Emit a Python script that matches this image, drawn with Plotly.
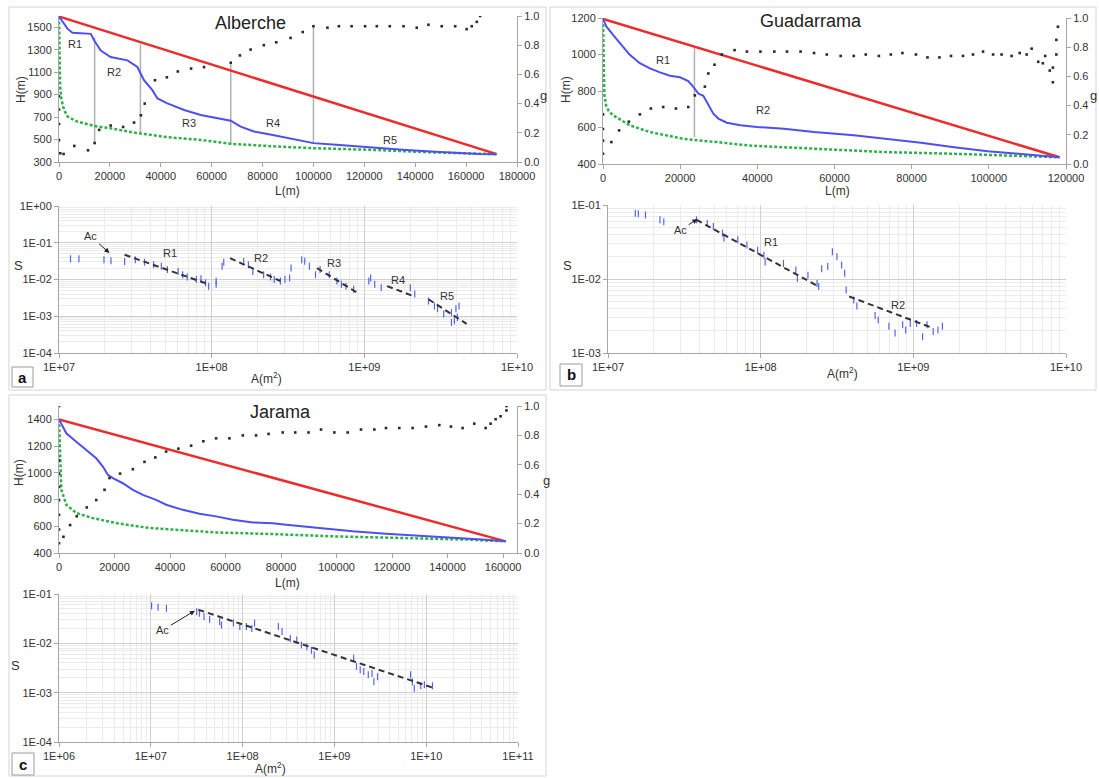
import math
import plotly.graph_objects as go

# ---------------- Alberche (a) ----------------
a_blue_L = [0, 3400, 5300, 12500, 13850, 16400, 20300, 26900, 30800, 33400, 36700, 38700, 42600,
            49200, 55700, 67500, 71400, 76600, 84000, 95000, 100000, 109000, 122000, 135000, 148000,
            158000, 165000, 172000]
a_blue_H = [1595, 1485, 1450, 1441, 1382, 1293, 1235, 1205, 1146, 1028, 940, 866, 822,
            763, 718, 668, 615, 571, 540, 495, 468, 453, 430, 409, 392,
            379, 372, 370]
a_red_L = [0, 172000]
a_red_H = [1595, 370]
a_green_L = [0, 150, 300, 450, 1000, 2000, 3400, 7300, 13800, 20300, 29500, 42600, 55700, 67500,
             85800, 100000, 122000, 148000, 172000]
a_green_H = [1595, 1440, 1150, 970, 850, 763, 704, 659, 621, 600, 562, 521, 497, 462,
             438, 423, 409, 385, 370]
a_g_L = [0, 0, 0, 0, 500, 1800, 6000, 11400, 14000, 15800, 20300, 25200, 29500, 32200,
         33700, 37700, 42400, 46700, 51900, 57000, 67500, 71100, 75300, 80500,
         85400, 91000, 95800, 100000, 105500, 110000, 115000, 120300, 124900, 130000,
         135400, 140600, 145200, 150400, 155700, 160200, 162200, 164200, 165500]
a_g = [0.45, 0.36, 0.26, 0.15, 0.06, 0.055, 0.11, 0.08, 0.13, 0.22, 0.25, 0.24, 0.27, 0.32,
       0.40, 0.56, 0.58, 0.62, 0.64, 0.65, 0.68, 0.73, 0.77, 0.80,
       0.82, 0.85, 0.89, 0.93, 0.92, 0.93, 0.93, 0.93, 0.93, 0.93,
       0.93, 0.92, 0.94, 0.93, 0.93, 0.91, 0.93, 0.96, 1.0]
a_reach_L = [14000, 32000, 67500, 100000]
a_reach_top = [1410, 1350, 1190, 1500]
a_reach_bot = [470, 555, 455, 470]
a_reach_names = ["R1", "R2", "R3", "R4", "R5"]
a_reach_lab_L = [6300, 21600, 51000, 84000, 130000]
a_reach_lab_H = [1352, 1100, 645, 650, 497]

a_A = [1.19e7, 1.35e7, 1.97e7, 2.19e7, 2.69e7, 3.16e7, 3.63e7, 4.17e7, 4.68e7, 5.13e7, 6.03e7,
       6.46e7, 6.92e7, 7.94e7, 8.51e7, 9.12e7, 9.55e7, 1.07e8, 1.07e8, 1.17e8, 1.20e8, 1.62e8,
       1.74e8, 1.86e8, 2.19e8, 2.43e8, 2.57e8, 2.82e8, 3.02e8, 3.24e8, 3.31e8, 3.89e8, 4.07e8,
       4.37e8, 4.79e8, 5.13e8, 5.89e8, 6.61e8, 7.08e8, 7.59e8, 8.51e8, 1.07e9, 1.10e9, 1.17e9,
       1.29e9, 2.00e9, 2.14e9, 2.63e9, 2.88e9, 3.02e9, 3.31e9, 3.72e9, 3.98e9, 4.07e9, 4.17e9,
       3.72e9, 3.89e9]
a_S = [0.0367, 0.0367, 0.0347, 0.0324, 0.0309, 0.0347, 0.0295, 0.0251, 0.0229, 0.0186, 0.0166,
       0.0135, 0.0117, 0.0100, 0.0105, 0.0081, 0.0066, 0.0089, 0.0074, 0.0229, 0.0295, 0.0309,
       0.0251, 0.0166, 0.0135, 0.0117, 0.0100, 0.0091, 0.0100, 0.0110, 0.0204, 0.0347, 0.0316,
       0.0229, 0.0135, 0.0186, 0.0135, 0.0091, 0.0074, 0.0066, 0.0054, 0.0091, 0.0110, 0.0074,
       0.0060, 0.0060, 0.0040, 0.0026, 0.0019, 0.0016, 0.00115, 0.00126, 0.0016, 0.00093, 0.0019,
       0.00068, 0.00076]
a_fit_A = [[2.69e7, 9.55e7], [1.32e8, 2.82e8], [4.9e8, 9.12e8], [1.41e9, 2.09e9], [2.63e9, 4.68e9]]
a_fit_S = [[0.047, 0.0074], [0.038, 0.0091], [0.0204, 0.0042], [0.0066, 0.00355], [0.0029, 0.00062]]
a_fit_lab_A = [5.37e7, 2.09e8, 6.3e8, 1.66e9, 3.47e9]
a_fit_lab_S = [0.0525, 0.038, 0.028, 0.0095, 0.00355]
a_ac_text = (1.62e7, 0.148)
a_ac_head = (2.14e7, 0.0525)

# ---------------- Guadarrama (b) ----------------
b_blue_L = [0, 870, 2600, 4770, 6940, 9550, 12150, 14760, 17360, 19960, 22100, 23400, 24700,
            26000, 27300, 28600, 29900, 32100, 35600, 39900, 46900, 54700, 65000, 73700, 82400,
            91000, 99700, 108400, 118300]
b_blue_H = [1195, 1154, 1108, 1053, 998, 952, 924, 902, 884, 875, 854, 823, 786,
            774, 722, 676, 649, 626, 612, 603, 593, 575, 557, 538, 516,
            492, 470, 455, 437]
b_red_L = [0, 118300]
b_red_H = [1195, 437]
b_green_L = [0, 100, 200, 350, 800, 1500, 2600, 6940, 12150, 20800, 29500, 38200, 55500, 73700,
             91000, 108400, 118300]
b_green_H = [1195, 1050, 900, 780, 720, 690, 667, 612, 575, 538, 520, 501, 483, 465,
             456, 446, 437]
b_g_L = [0, 0, 0, 0, 2170, 4170, 6700, 9550, 12400, 15600, 18900, 22100, 23800, 26400,
         27300, 28900, 30800, 34100, 37300, 40800, 44400, 47700, 51200, 54700,
         58000, 61600, 65000, 68100, 71500, 74600, 77600, 81100, 84100, 87200,
         90200, 93300, 95900, 98500, 101100, 103300, 105900, 108000, 109800, 111100,
         112800, 114000, 114600, 115800, 116600, 116600, 117500, 117500, 117900]
b_g = [0.07, 0.16, 0.24, 0.34, 0.15, 0.23, 0.29, 0.34, 0.38, 0.39, 0.38, 0.39, 0.47, 0.53,
       0.62, 0.68, 0.75, 0.78, 0.77, 0.77, 0.77, 0.77, 0.77, 0.76,
       0.75, 0.74, 0.74, 0.75, 0.74, 0.75, 0.76, 0.75, 0.73, 0.73,
       0.74, 0.74, 0.75, 0.77, 0.75, 0.75, 0.74, 0.76, 0.75, 0.79,
       0.70, 0.69, 0.74, 0.64, 0.66, 0.56, 0.75, 0.85, 0.94]
b_reach_L = [23700]
b_reach_top = [1035]
b_reach_bot = [547]
b_reach_names = ["R1", "R2"]
b_reach_lab_L = [15600, 41500]
b_reach_lab_H = [970, 694]

b_A = [1.51e7, 1.58e7, 1.76e7, 2.19e7, 2.32e7, 3.80e7, 4.47e7, 4.90e7, 5.62e7, 5.75e7, 7.08e7,
       8.13e7, 9.55e7, 1.05e8, 1.07e8, 1.41e8, 1.70e8, 1.74e8, 2.04e8, 2.34e8, 2.40e8, 2.51e8,
       2.75e8, 2.95e8, 3.16e8, 3.39e8, 3.55e8, 3.63e8, 4.07e8, 4.27e8, 5.62e8, 5.89e8, 6.92e8,
       7.59e8, 8.51e8, 8.91e8, 9.55e8, 1.05e9, 1.15e9, 1.23e9, 1.35e9, 1.45e9, 1.55e9]
b_S = [0.0776, 0.0759, 0.0733, 0.0631, 0.0596, 0.0631, 0.0562, 0.0513, 0.0417, 0.0355, 0.0339,
       0.0288, 0.0245, 0.0209, 0.0170, 0.0162, 0.0132, 0.0102, 0.0112, 0.0087, 0.0079, 0.0138,
       0.0148, 0.0234, 0.0200, 0.0155, 0.0120, 0.0071, 0.0052, 0.0043, 0.0032, 0.0028, 0.0023,
       0.00186, 0.0024, 0.00204, 0.0025, 0.0025, 0.00166, 0.0024, 0.00195, 0.00204, 0.0023]
b_fit_A = [[3.8e7, 2.40e8], [3.8e8, 1.32e9]]
b_fit_S = [[0.063, 0.0079], [0.0058, 0.0022]]
b_fit_lab_A = [1.17e8, 7.94e8]
b_fit_lab_S = [0.0316, 0.00447]
b_ac_text = (2.99e7, 0.0457)
b_ac_head = (3.85e7, 0.0646)

# ---------------- Jarama (c) ----------------
c_blue_L = [0, 1440, 2640, 6230, 9830, 13400, 15800, 17600, 19400, 23000, 26600, 30200, 35000,
            38600, 44600, 50600, 56600, 62600, 69800, 77000, 81800, 93800, 99800, 105800,
            117800, 129800, 141700, 153700, 160900]
c_blue_H = [1400, 1345, 1296, 1233, 1171, 1109, 1047, 985, 960, 922, 873, 835, 798,
            761, 723, 694, 674, 649, 629, 622, 611, 587, 579, 562,
            544, 529, 517, 500, 487]
c_red_L = [0, 160900]
c_red_H = [1400, 487]
c_green_L = [0, 250, 500, 850, 2640, 6230, 12200, 20600, 32600, 44600, 56600, 75000, 99800,
             123800, 147700, 160900]
c_green_H = [1400, 1246, 997, 873, 761, 699, 661, 624, 587, 569, 554, 543, 524,
             512, 500, 487]
c_g_L = [0, 0, 0, 0, 0, 0, 0, 0, 1600, 4000, 6400, 10000, 13400, 16400, 18200, 22000, 26600,
         30800, 34700, 38600, 43000, 47600, 52000, 56600, 61400, 66200, 71000, 75500,
         80600, 85100, 89900, 94400, 99200, 104000, 108800, 113600, 117800, 122600,
         127400, 132200, 137000, 141200, 145400, 149600, 153700, 155500, 157300, 159100,
         161200, 161200]
c_g = [1.0, 0.63, 0.54, 0.45, 0.36, 0.26, 0.16, 0.066, 0.11, 0.19, 0.25, 0.31, 0.36, 0.43, 0.51,
       0.54, 0.57, 0.62, 0.65, 0.69, 0.71, 0.73, 0.76, 0.78, 0.78, 0.80, 0.80, 0.81,
       0.82, 0.82, 0.82, 0.84, 0.82, 0.82, 0.84, 0.84, 0.85, 0.85,
       0.85, 0.86, 0.87, 0.86, 0.85, 0.88, 0.85, 0.88, 0.91, 0.93, 0.97, 1.0]

c_A = [1.02e7, 1.20e7, 1.48e7, 3.16e7, 3.39e7, 3.80e7, 4.37e7, 5.62e7, 5.89e7, 7.94e7, 9.33e7,
       1.10e8, 1.26e8, 1.35e8, 2.45e8, 2.69e8, 3.31e8, 3.89e8, 4.37e8, 5.01e8, 5.62e8, 6.03e8,
       1.62e9, 1.74e9, 1.91e9, 2.09e9, 2.34e9, 2.57e9, 2.69e9, 2.95e9, 6.76e9, 7.08e9, 7.41e9,
       8.71e9, 9.55e9, 1.17e10]
c_S = [0.0575, 0.0537, 0.0513, 0.0437, 0.0407, 0.0347, 0.0309, 0.0275, 0.0234, 0.0257, 0.0219,
       0.0219, 0.0200, 0.0257, 0.0219, 0.0174, 0.0126, 0.0117, 0.0093, 0.0085, 0.0072, 0.0058,
       0.0050, 0.0034, 0.0029, 0.0027, 0.0023, 0.00245, 0.00166, 0.0021, 0.0023, 0.00166, 0.00123,
       0.00138, 0.00145, 0.00138]
c_fit_A = [[3.3e7, 1.23e10]]
c_fit_S = [[0.048, 0.00123]]
c_ac_text = (1.35e7, 0.0186)
c_ac_head = (3.02e7, 0.0457)

# axis tick labels
s_xticks_ab = [1e7, 1e8, 1e9, 1e10]
s_xlabels_ab = ["1E+07", "1E+08", "1E+09", "1E+10"]
s_xticks_c = [1e6, 1e7, 1e8, 1e9, 1e10, 1e11]
s_xlabels_c = ["1E+06", "1E+07", "1E+08", "1E+09", "1E+10", "1E+11"]
s_yticks_a = [1e-4, 1e-3, 1e-2, 1e-1, 1]
s_ylabels_a = ["1E-04", "1E-03", "1E-02", "1E-01", "1E+00"]
s_yticks_b = [1e-3, 1e-2, 1e-1]
s_ylabels_b = ["1E-03", "1E-02", "1E-01"]
s_yticks_c = [1e-4, 1e-3, 1e-2, 1e-1]
s_ylabels_c = ["1E-04", "1E-03", "1E-02", "1E-01"]

# ---------------- styling ----------------
W, HGT = 1099, 778
FONT = "Liberation Sans, Arial, sans-serif"
TXT = "#333333"
AXC = "#a6a6a6"
RED = "#ee2b2b"
BLUE = "#4f4ff0"
GREEN = "#2eb04a"
DOT = "#2a2a2a"
SBLUE = "#5565e8"
MAJ = "#cfcfcf"
MIN = "#ebebeb"


def px(x):
    return x / W


def py(y):
    return 1 - y / HGT


fig = go.Figure()


def add_profile(xa, ya, ga, bl, bh, rl, rh, gl, gh, dl, dv, rL=None, rtop=None, rbot=None):
    if rL:
        xs, ys = [], []
        for L, t, b in zip(rL, rtop, rbot):
            xs += [L, L, None]
            ys += [t, b, None]
        fig.add_trace(go.Scatter(x=xs, y=ys, xaxis=xa, yaxis=ya, mode="lines",
                                 line=dict(color="#b0b0b0", width=1.5), hoverinfo="skip"))
    fig.add_trace(go.Scatter(x=gl, y=gh, xaxis=xa, yaxis=ya, mode="lines",
                             line=dict(color=GREEN, width=2.5, dash="3px,2px")))
    fig.add_trace(go.Scatter(x=rl, y=rh, xaxis=xa, yaxis=ya, mode="lines",
                             line=dict(color=RED, width=2.5)))
    fig.add_trace(go.Scatter(x=bl, y=bh, xaxis=xa, yaxis=ya, mode="lines",
                             line=dict(color=BLUE, width=2)))
    fig.add_trace(go.Scatter(x=dl, y=dv, xaxis=xa, yaxis=ga, mode="markers",
                             marker=dict(color=DOT, size=2.6, symbol="square")))


def add_slope(xa, ya, A, S, fitA, fitS):
    xs, ys = [], []
    for fa, fs in zip(fitA, fitS):
        xs += fa + [None]
        ys += fs + [None]
    fig.add_trace(go.Scatter(x=A, y=S, xaxis=xa, yaxis=ya, mode="markers",
                             marker=dict(color=SBLUE, size=5, symbol="line-ns",
                                         line=dict(color=SBLUE, width=1.2))))
    fig.add_trace(go.Scatter(x=xs, y=ys, xaxis=xa, yaxis=ya, mode="lines",
                             line=dict(color="#333333", width=2, dash="6px,4px")))


add_profile("x", "y", "y2", a_blue_L, a_blue_H, a_red_L, a_red_H, a_green_L, a_green_H,
            a_g_L, a_g, a_reach_L, a_reach_top, a_reach_bot)
add_slope("x2", "y3", a_A, a_S, a_fit_A, a_fit_S)
add_profile("x3", "y4", "y5", b_blue_L, b_blue_H, b_red_L, b_red_H, b_green_L, b_green_H,
            b_g_L, b_g, b_reach_L, b_reach_top, b_reach_bot)
add_slope("x4", "y6", b_A, b_S, b_fit_A, b_fit_S)
add_profile("x5", "y7", "y8", c_blue_L, c_blue_H, c_red_L, c_red_H, c_green_L, c_green_H,
            c_g_L, c_g)
add_slope("x6", "y9", c_A, c_S, c_fit_A, c_fit_S)

tickfont = dict(family=FONT, size=11, color=TXT)
common = dict(showline=True, linecolor=AXC, linewidth=1, ticks="outside", ticklen=4,
              tickcolor=AXC, tickfont=tickfont, zeroline=False, automargin=False)


def prof_x(d0, d1, rng, anchor):
    return dict(domain=[px(d0), px(d1)], range=rng, dtick=20000, tick0=0, tickformat="d",
                showgrid=False, anchor=anchor, **common)


def prof_y(t, b, rng, tick0, anchor):
    return dict(domain=[py(b), py(t)], range=rng, dtick=200, tick0=tick0, tickformat="d",
                showgrid=False, anchor=anchor, **common)


def g_axis(over, anchor):
    return dict(overlaying=over, side="right", anchor=anchor, range=[0, 1], dtick=0.2,
                tickformat=".1f", showgrid=False, **common)


def minor_vals(lo, hi):
    return [k * 10 ** e for e in range(lo, hi) for k in range(2, 10)]


def log_axis(d0, d1, rng, vals, labels, anchor, vertical=False):
    dom = [py(d1), py(d0)] if vertical else [px(d0), px(d1)]
    return dict(type="log", domain=dom, range=rng, tickmode="array", tickvals=vals,
                ticktext=labels, showgrid=True, gridcolor=MAJ, gridwidth=1, anchor=anchor,
                minor=dict(tickmode="array", tickvals=minor_vals(int(rng[0]), int(rng[1])),
                           showgrid=True, gridcolor=MIN, ticks=""),
                **common)


layout = dict(
    width=W, height=HGT, margin=dict(l=0, r=0, t=0, b=0, autoexpand=False),
    paper_bgcolor="white", plot_bgcolor="white", showlegend=False,
    font=dict(family=FONT, color=TXT),
    xaxis=prof_x(59, 517, [0, 180000], "y"),
    yaxis=prof_y(16, 162, [300, 1600], 300, "x"),
    yaxis2=g_axis("y", "x"),
    xaxis2=log_axis(59, 517, [7, 10], s_xticks_ab, s_xlabels_ab, "y3"),
    yaxis3=log_axis(206, 353, [-4, 0], s_yticks_a, s_ylabels_a, "x2", vertical=True),
    xaxis3=prof_x(603, 1066, [0, 120000], "y4"),
    yaxis4=prof_y(18, 164, [400, 1200], 400, "x3"),
    yaxis5=g_axis("y4", "x3"),
    xaxis4=log_axis(608, 1066, [7, 10], s_xticks_ab, s_xlabels_ab, "y6"),
    yaxis6=log_axis(205, 353, [-3, -1], s_yticks_b, s_ylabels_b, "x4", vertical=True),
    xaxis5=prof_x(59, 517, [0, 165000], "y7"),
    yaxis7=prof_y(406, 553, [400, 1500], 400, "x5"),
    yaxis8=g_axis("y7", "x5"),
    xaxis6=log_axis(59, 518, [6, 11], s_xticks_c, s_xlabels_c, "y9"),
    yaxis9=log_axis(594, 742, [-4, -1], s_yticks_c, s_ylabels_c, "x6", vertical=True),
)

ann = []


def label(x, y, text, size=12, angle=0, color=TXT):
    ann.append(dict(x=px(x), y=py(y), xref="paper", yref="paper", text=text, showarrow=False,
                    xanchor="center", yanchor="middle", textangle=angle,
                    font=dict(family=FONT, size=size, color=color)))


# titles and axis names
label(250, 23, "Alberche", 18, color="#222")
label(811, 21, "Guadarrama", 18, color="#222")
label(280, 412, "Jarama", 18, color="#222")
for x, y in [(21, 90), (566, 90), (19, 473)]:
    label(x, y, "H(m)", 12, -90)
for x, y in [(287, 191), (837, 191), (287, 583)]:
    label(x, y, "L(m)", 12)
for x, y in [(543, 95), (1093, 95), (546, 480)]:
    label(x, y, "g", 13)
for x, y in [(18, 266), (567, 266), (15, 665)]:
    label(x, y, "S", 13)
for x, y in [(266, 378), (842, 373), (270, 768)]:
    label(x, y, "A(m<sup>2</sup>)", 12)


def data_text(xa, ya, x, y, text, logaxes=False):
    if logaxes:
        x, y = math.log10(x), math.log10(y)
    ann.append(dict(x=x, y=y, xref=xa, yref=ya, text=text, showarrow=False,
                    xanchor="center", yanchor="middle",
                    font=dict(family=FONT, size=11, color=TXT)))


for n, L, Hh in zip(a_reach_names, a_reach_lab_L, a_reach_lab_H):
    data_text("x", "y", L, Hh, n)
for n, L, Hh in zip(b_reach_names, b_reach_lab_L, b_reach_lab_H):
    data_text("x3", "y4", L, Hh, n)
for n, A, S in zip(a_reach_names, a_fit_lab_A, a_fit_lab_S):
    data_text("x2", "y3", A, S, n, True)
for n, A, S in zip(b_reach_names, b_fit_lab_A, b_fit_lab_S):
    data_text("x4", "y6", A, S, n, True)


def ac_arrow(xa, ya, text_pt, head_pt):
    ann.append(dict(x=math.log10(head_pt[0]), y=math.log10(head_pt[1]), xref=xa, yref=ya,
                    ax=math.log10(text_pt[0]), ay=math.log10(text_pt[1]), axref=xa, ayref=ya,
                    text="Ac", showarrow=True, arrowhead=2, arrowsize=1, arrowwidth=1,
                    arrowcolor="#222", font=dict(family=FONT, size=11, color=TXT)))


ac_arrow("x2", "y3", a_ac_text, a_ac_head)
ac_arrow("x4", "y6", b_ac_text, b_ac_head)
ac_arrow("x6", "y9", c_ac_text, c_ac_head)

# panel letters
for (x0, y0, x1, y1, t) in [(12, 367, 33, 387, "a"), (560, 364, 582, 386, "b"),
                            (12, 753, 34, 775, "c")]:
    ann.append(dict(x=px((x0 + x1) / 2), y=py((y0 + y1) / 2), xref="paper", yref="paper",
                    text="<b>%s</b>" % t, showarrow=False, xanchor="center", yanchor="middle",
                    font=dict(family=FONT, size=15, color="#111")))

shapes = []
for (x0, y0, x1, y1) in [(9, 7, 546, 390), (550, 7, 1096, 390), (9, 395, 546, 776)]:
    shapes.append(dict(type="rect", xref="paper", yref="paper", x0=px(x0), x1=px(x1),
                       y0=py(y1), y1=py(y0), line=dict(color="#d4d4d4", width=1)))
for (x0, y0, x1, y1) in [(12, 367, 33, 387), (560, 364, 582, 386), (12, 753, 34, 775)]:
    shapes.append(dict(type="rect", xref="paper", yref="paper", x0=px(x0), x1=px(x1),
                       y0=py(y1), y1=py(y0), line=dict(color="#9a9a9a", width=1)))

layout["annotations"] = ann
layout["shapes"] = shapes
fig.update_layout(**layout)
fig.write_html("out.html")
